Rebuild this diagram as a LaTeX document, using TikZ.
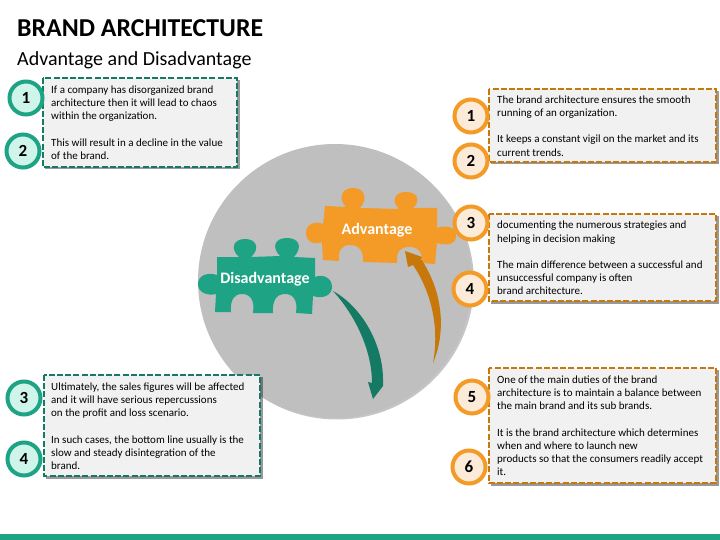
\documentclass[tikz,border=0pt]{standalone}
\usepackage{fontspec}
\setmainfont{Carlito}
\definecolor{tealmain}{HTML}{1FA385}
\definecolor{tealdark}{HTML}{147A63}
\definecolor{orangemain}{HTML}{F39B26}
\definecolor{orangedark}{HTML}{C8780A}
\definecolor{mintfill}{HTML}{CFF5EA}
\definecolor{peachfill}{HTML}{FCEBD9}
\definecolor{boxfill}{HTML}{F1F1F1}
\definecolor{discfill}{HTML}{BFBFBF}
\tikzset{
  x=1pt,y=-1pt,
  boxshadow/.style={fill=black,draw=none,opacity=.4},
  greenbox/.style={fill=boxfill,draw=tealdark,line width=2.2pt,dash pattern=on 6pt off 2.2pt},
  orangebox/.style={fill=boxfill,draw=orangedark,line width=2.2pt,dash pattern=on 6pt off 2.2pt},
  numcircle/.style={circle,minimum size=33pt,inner sep=0pt,line width=4pt,font=\fontsize{17}{17}\selectfont\bfseries,text=black},
  greennum/.style={numcircle,draw=tealmain,fill=mintfill},
  orangenum/.style={numcircle,draw=orangemain,fill=peachfill},
  bodytext/.style={anchor=north west,inner sep=0pt,align=left,font=\fontsize{11}{13.2}\selectfont,text=black},
  piecelabel/.style={inner sep=0pt,text=white,font=\fontsize{16}{16}\selectfont\bfseries},
}
\begin{document}
\begin{tikzpicture}
\useasboundingbox (0,0) rectangle (720,540);
\fill[white] (0,0) rectangle (720,540);
\fill[tealmain] (0,534) rectangle (720,540);
\node[anchor=west,inner sep=0pt,font=\fontsize{25.8}{26}\selectfont\bfseries] (title) at (17,28) {BRAND ARCHITECTURE};
\node[anchor=west,inner sep=0pt,font=\fontsize{20}{20}\selectfont] (subtitle) at (17,60) {Advantage and Disadvantage};
% disc
\fill[black!45,opacity=.5] (337,282.5) circle (137);
\fill[discfill] (335,281) circle (137);
% puzzle pieces
\fill[orangemain] (325,206) -- (346,207) .. controls (338,199) and (341,188) .. (353,188) .. controls (365,188) and (368,199) .. (360,208) -- (399,209) .. controls (391,201) and (394,192) .. (406,192) .. controls (418,192) and (421,201) .. (413,208) -- (437,208) -- (437,228) .. controls (445,225) and (456,226) .. (456,236) .. controls (456,245) and (445,246) .. (437,243) -- (435,264) -- (422,263) .. controls (423,252) and (418,247) .. (409,247) .. controls (400,247) and (396,252) .. (397,263) -- (363,262) .. controls (364,251) and (359,245) .. (350,245) .. controls (341,245) and (338,251) .. (339,261) -- (323,260) -- (322,242) .. controls (316,245) and (306,243) .. (306,233) .. controls (306,223) and (316,221) .. (323,224) -- cycle;
\fill[tealmain] (217,257) -- (239,257) .. controls (230,249) and (233,239) .. (245,239) .. controls (257,239) and (260,249) .. (251,257) -- (280,256) .. controls (271,247) and (275,238) .. (287,238) .. controls (299,238) and (303,247) .. (294,257) -- (315,258) -- (315,277) .. controls (322,274) and (332,277) .. (332,287) .. controls (332,296) and (322,299) .. (313,296) -- (312,314) -- (296,313) .. controls (298,300) and (293,294) .. (285,294) .. controls (277,294) and (272,300) .. (273,313) -- (253,313) .. controls (255,300) and (250,294) .. (242,294) .. controls (234,294) and (230,300) .. (231,312) -- (215,312) -- (216,294) .. controls (208,296) and (198,293) .. (198,284) .. controls (198,275) and (208,272) .. (217,275) -- cycle;
\node[piecelabel] (adv) at (377,230.5) {Advantage};
\node[piecelabel] (dis) at (265,279.5) {Disadvantage};
% arrows
\fill[tealdark] (333,291) .. controls (362,307) and (384,345) .. (383,383) -- (383,386) -- (373,399) -- (368,382) -- (372,383) .. controls (372,350) and (355,315) .. cycle;
\fill[orangedark] (433,363) .. controls (447,330) and (442,290) .. (421,259) -- (422,257) -- (405,251) -- (408,267) -- (413,265) .. controls (430,290) and (440,325) .. cycle;
% boxes
\fill[boxshadow] (45,80) rectangle (239.5,169.5);
\draw[greenbox] (43,78) rectangle (237,167);
\fill[boxshadow] (46,377) rectangle (262.5,478.5);
\draw[greenbox] (44,375) rectangle (260,476);
\fill[boxshadow] (491,91) rectangle (718.5,164.5);
\draw[orangebox] (489,89) rectangle (716,162);
\fill[boxshadow] (491,216) rectangle (718.5,303.5);
\draw[orangebox] (489,214) rectangle (716,301);
\fill[boxshadow] (491,370) rectangle (718.5,485.5);
\draw[orangebox] (489,368) rectangle (716,483);
% text
\node[bodytext] (tl) at (51,85.5) {If a company has disorganized brand\\architecture then it will lead to chaos\\within the organization.\\[13.2pt]This will result in a decline in the value\\of the brand.};
\node[bodytext] (bl) at (51,382.5) {Ultimately, the sales figures will be affected\\and it will have serious repercussions\\on the profit and loss scenario.\\[13.2pt]In such cases, the bottom line usually is the\\slow and steady disintegration of the\\brand.};
\node[bodytext] (tr) at (497,95.5) {The brand architecture ensures the smooth\\running of an organization.\\[13.2pt]It keeps a constant vigil on the market and its\\current trends.};
\node[bodytext] (mr) at (497,221) {documenting the numerous strategies and\\helping in decision making\\[13.2pt]The main difference between a successful and\\unsuccessful company is often\\brand architecture.};
\node[bodytext] (br) at (497,375.5) {One of the main duties of the brand\\architecture is to maintain a balance between\\the main brand and its sub brands.\\[13.2pt]It is the brand architecture which determines\\when and where to launch new\\products so that the consumers readily accept\\it.};
% numbers
\node[greennum] (g1) at (26,98) {1};
\node[greennum] (g2) at (23,151) {2};
\node[greennum] (g3) at (24,398) {3};
\node[greennum] (g4) at (24,459) {4};
\node[orangenum] (o1) at (471,116) {1};
\node[orangenum] (o2) at (471,161) {2};
\node[orangenum] (o3) at (471,223) {3};
\node[orangenum] (o4) at (470,289) {4};
\node[orangenum] (o5) at (472,397) {5};
\node[orangenum] (o6) at (469,467) {6};
\end{tikzpicture}
\end{document}
